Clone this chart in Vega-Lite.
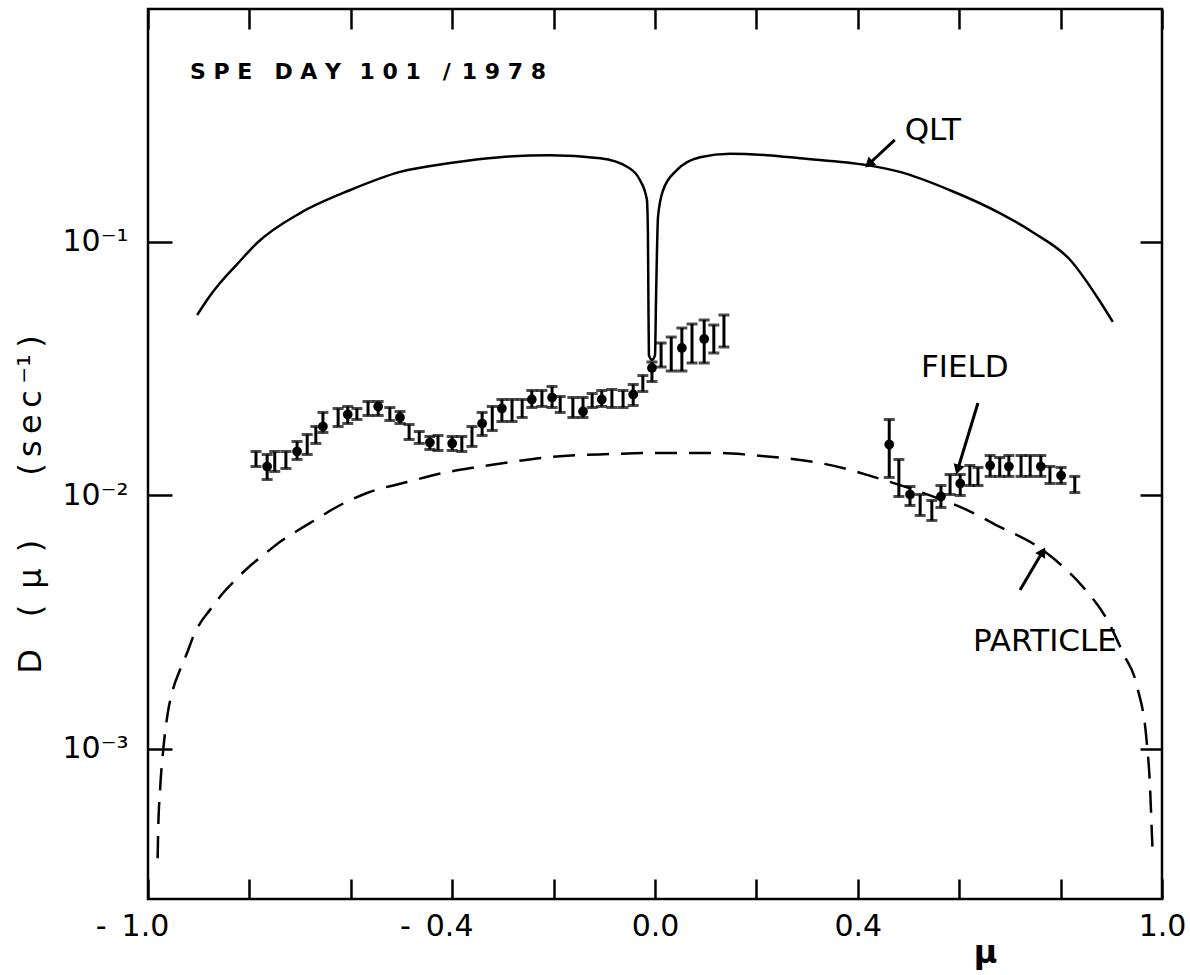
{
  "$schema": "https://vega.github.io/schema/vega-lite/v6.json",
  "width": 1014,
  "height": 890,
  "autosize": {"type": "none"},
  "padding": {"left": 148, "top": 9, "right": 28, "bottom": 76},
  "background": "white",
  "config": {
    "view": {"stroke": "black", "strokeWidth": 2.5},
    "font": "DejaVu Sans"
  },
  "datasets": {
    "qlt": [
      {"mu": -0.903, "D": 0.0515}, {"mu": -0.878, "D": 0.06124}, {"mu": -0.858, "D": 0.06889},
      {"mu": -0.824, "D": 0.08185}, {"mu": -0.785, "D": 0.0991}, {"mu": -0.700, "D": 0.130},
      {"mu": -0.602, "D": 0.160}, {"mu": -0.503, "D": 0.189}, {"mu": -0.404, "D": 0.205},
      {"mu": -0.306, "D": 0.216}, {"mu": -0.207, "D": 0.220}, {"mu": -0.108, "D": 0.214},
      {"mu": -0.055, "D": 0.198}, {"mu": -0.030, "D": 0.176}, {"mu": -0.016, "D": 0.147},
      {"mu": -0.014, "D": 0.109}, {"mu": -0.013, "D": 0.059}, {"mu": -0.012, "D": 0.0358},
      {"mu": -0.006, "D": 0.0343}, {"mu": 0.000, "D": 0.0358}, {"mu": 0.002, "D": 0.059},
      {"mu": 0.006, "D": 0.126}, {"mu": 0.016, "D": 0.160}, {"mu": 0.043, "D": 0.192},
      {"mu": 0.089, "D": 0.216}, {"mu": 0.148, "D": 0.223}, {"mu": 0.221, "D": 0.220},
      {"mu": 0.286, "D": 0.214}, {"mu": 0.418, "D": 0.201}, {"mu": 0.483, "D": 0.189},
      {"mu": 0.582, "D": 0.160}, {"mu": 0.680, "D": 0.130}, {"mu": 0.746, "D": 0.109},
      {"mu": 0.819, "D": 0.0849}, {"mu": 0.872, "D": 0.0607}, {"mu": 0.903, "D": 0.0484}
    ],
    "particle": [
      {"mu": -0.981, "D": 0.000371}, {"mu": -0.980, "D": 0.000467}, {"mu": -0.976, "D": 0.000700},
      {"mu": -0.970, "D": 0.000990}, {"mu": -0.961, "D": 0.001387}, {"mu": -0.951, "D": 0.00171},
      {"mu": -0.937, "D": 0.00205}, {"mu": -0.923, "D": 0.00239}, {"mu": -0.911, "D": 0.00277},
      {"mu": -0.897, "D": 0.00314}, {"mu": -0.878, "D": 0.00353}, {"mu": -0.852, "D": 0.004124},
      {"mu": -0.824, "D": 0.004726}, {"mu": -0.799, "D": 0.00527}, {"mu": -0.765, "D": 0.005987},
      {"mu": -0.740, "D": 0.006556}, {"mu": -0.700, "D": 0.007376}, {"mu": -0.667, "D": 0.008077},
      {"mu": -0.635, "D": 0.008845}, {"mu": -0.568, "D": 0.01023}, {"mu": -0.489, "D": 0.0113},
      {"mu": -0.418, "D": 0.01227}, {"mu": -0.351, "D": 0.01295}, {"mu": -0.286, "D": 0.01355},
      {"mu": -0.207, "D": 0.01418}, {"mu": -0.083, "D": 0.01458}, {"mu": -0.016, "D": 0.01472},
      {"mu": 0.055, "D": 0.01472}, {"mu": 0.128, "D": 0.01472}, {"mu": 0.187, "D": 0.01446},
      {"mu": 0.385, "D": 0.01262}, {"mu": 0.418, "D": 0.01206}, {"mu": 0.523, "D": 0.01033},
      {"mu": 0.615, "D": 0.00878}, {"mu": 0.680, "D": 0.00752}, {"mu": 0.753, "D": 0.00632},
      {"mu": 0.805, "D": 0.00523}, {"mu": 0.844, "D": 0.00436}, {"mu": 0.892, "D": 0.00323},
      {"mu": 0.923, "D": 0.00239}, {"mu": 0.951, "D": 0.00176}, {"mu": 0.970, "D": 0.00106},
      {"mu": 0.976, "D": 0.000734}, {"mu": 0.980, "D": 0.000467}, {"mu": 0.982, "D": 0.000371}
    ],
    "obs": [
      {"mu": -0.787, "hi": 0.01491, "lo": 0.01301, "dot": null},
      {"mu": -0.765, "hi": 0.01451, "lo": 0.01156, "dot": 0.01301},
      {"mu": -0.750, "hi": 0.01491, "lo": 0.01244, "dot": null},
      {"mu": -0.728, "hi": 0.01491, "lo": 0.01278, "dot": null},
      {"mu": -0.706, "hi": 0.01633, "lo": 0.01387, "dot": 0.01491},
      {"mu": -0.686, "hi": 0.01740, "lo": 0.01451, "dot": null},
      {"mu": -0.669, "hi": 0.01871, "lo": 0.01604, "dot": null},
      {"mu": -0.655, "hi": 0.02126, "lo": 0.01772, "dot": 0.01871},
      {"mu": -0.625, "hi": 0.02204, "lo": 0.01871, "dot": null},
      {"mu": -0.606, "hi": 0.02245, "lo": 0.01923, "dot": 0.02087},
      {"mu": -0.588, "hi": 0.02204, "lo": 0.01994, "dot": null},
      {"mu": -0.566, "hi": 0.02348, "lo": 0.02068, "dot": null},
      {"mu": -0.546, "hi": 0.02348, "lo": 0.02068, "dot": 0.02245},
      {"mu": -0.523, "hi": 0.02224, "lo": 0.01976, "dot": null},
      {"mu": -0.503, "hi": 0.02145, "lo": 0.01923, "dot": 0.02031},
      {"mu": -0.485, "hi": 0.01905, "lo": 0.01663, "dot": null},
      {"mu": -0.465, "hi": 0.01788, "lo": 0.01604, "dot": null},
      {"mu": -0.444, "hi": 0.01709, "lo": 0.01519, "dot": 0.01618},
      {"mu": -0.428, "hi": 0.01724, "lo": 0.01505, "dot": null},
      {"mu": -0.400, "hi": 0.01709, "lo": 0.01505, "dot": 0.01604},
      {"mu": -0.381, "hi": 0.01709, "lo": 0.01491, "dot": null},
      {"mu": -0.361, "hi": 0.01871, "lo": 0.01561, "dot": null},
      {"mu": -0.341, "hi": 0.02126, "lo": 0.01724, "dot": 0.01923},
      {"mu": -0.321, "hi": 0.02245, "lo": 0.01804, "dot": null},
      {"mu": -0.302, "hi": 0.02392, "lo": 0.01958, "dot": 0.02204},
      {"mu": -0.282, "hi": 0.02392, "lo": 0.01958, "dot": null},
      {"mu": -0.262, "hi": 0.02392, "lo": 0.02031, "dot": null},
      {"mu": -0.243, "hi": 0.02595, "lo": 0.02224, "dot": 0.02392},
      {"mu": -0.223, "hi": 0.02595, "lo": 0.02245, "dot": null},
      {"mu": -0.203, "hi": 0.02692, "lo": 0.02224, "dot": 0.02435},
      {"mu": -0.187, "hi": 0.02458, "lo": 0.02126, "dot": null},
      {"mu": -0.162, "hi": 0.02435, "lo": 0.02031, "dot": null},
      {"mu": -0.142, "hi": 0.02435, "lo": 0.02031, "dot": 0.02145},
      {"mu": -0.124, "hi": 0.02526, "lo": 0.02224, "dot": null},
      {"mu": -0.105, "hi": 0.02595, "lo": 0.02245, "dot": 0.02392},
      {"mu": -0.085, "hi": 0.02619, "lo": 0.02224, "dot": null},
      {"mu": -0.063, "hi": 0.02595, "lo": 0.02224, "dot": null},
      {"mu": -0.043, "hi": 0.02741, "lo": 0.02265, "dot": 0.02503},
      {"mu": -0.024, "hi": 0.02973, "lo": 0.02572, "dot": null},
      {"mu": -0.006, "hi": 0.03362, "lo": 0.02816, "dot": 0.03184},
      {"mu": 0.012, "hi": 0.03995, "lo": 0.03213, "dot": null},
      {"mu": 0.032, "hi": 0.04218, "lo": 0.03098, "dot": null},
      {"mu": 0.053, "hi": 0.04578, "lo": 0.03098, "dot": 0.03818},
      {"mu": 0.073, "hi": 0.04747, "lo": 0.03332, "dot": null},
      {"mu": 0.097, "hi": 0.04923, "lo": 0.03332, "dot": 0.04143},
      {"mu": 0.116, "hi": 0.04704, "lo": 0.03648, "dot": null},
      {"mu": 0.136, "hi": 0.05152, "lo": 0.03853, "dot": null},
      {"mu": 0.462, "hi": 0.01994, "lo": 0.01178, "dot": 0.01589},
      {"mu": 0.481, "hi": 0.01387, "lo": 0.00991, "dot": null},
      {"mu": 0.503, "hi": 0.01085, "lo": 0.00913, "dot": 0.01009},
      {"mu": 0.523, "hi": 0.01009, "lo": 0.00834, "dot": null},
      {"mu": 0.546, "hi": 0.00956, "lo": 0.00797, "dot": null},
      {"mu": 0.564, "hi": 0.01095, "lo": 0.00897, "dot": 0.00991},
      {"mu": 0.582, "hi": 0.01210, "lo": 0.01009, "dot": null},
      {"mu": 0.602, "hi": 0.01210, "lo": 0.01000, "dot": 0.01115},
      {"mu": 0.621, "hi": 0.01313, "lo": 0.01095, "dot": null},
      {"mu": 0.637, "hi": 0.01290, "lo": 0.01095, "dot": null},
      {"mu": 0.661, "hi": 0.01438, "lo": 0.01189, "dot": 0.01313},
      {"mu": 0.680, "hi": 0.01412, "lo": 0.01189, "dot": null},
      {"mu": 0.698, "hi": 0.01438, "lo": 0.01189, "dot": 0.01301},
      {"mu": 0.722, "hi": 0.01438, "lo": 0.01189, "dot": null},
      {"mu": 0.740, "hi": 0.01438, "lo": 0.01189, "dot": null},
      {"mu": 0.761, "hi": 0.01438, "lo": 0.01189, "dot": 0.01301},
      {"mu": 0.779, "hi": 0.01301, "lo": 0.01115, "dot": null},
      {"mu": 0.801, "hi": 0.01290, "lo": 0.01115, "dot": 0.01199},
      {"mu": 0.828, "hi": 0.01189, "lo": 0.01027, "dot": null}
    ],
    "notes": [
      {"mu": -0.917, "D": 0.468, "label": "S P E\u2002\u2002D A Y\u2002 1 0 1\u2002\u2002/\u20021 9 7 8", "kind": "title"},
      {"mu": 0.548, "D": 0.274, "label": "QLT", "kind": "curve"},
      {"mu": 0.611, "D": 0.0318, "label": "FIELD", "kind": "curve"},
      {"mu": 0.769, "D": 0.00264, "label": "PARTICLE", "kind": "curve"}
    ],
    "arrows": [
      {"mu": 0.473, "D": 0.2526, "mu2": 0.424, "D2": 0.2049, "label": "QLT"},
      {"mu": 0.637, "D": 0.02317, "mu2": 0.598, "D2": 0.01284, "label": "FIELD"},
      {"mu": 0.720, "D": 0.00424, "mu2": 0.763, "D2": 0.00593, "label": "PARTICLE"}
    ]
  },
  "resolve": {"axis": {"x": "independent", "y": "independent"}},
  "layer": [
    {
      "data": {"name": "qlt"},
      "mark": {"type": "line", "color": "black", "strokeWidth": 2.5, "interpolate": "monotone"},
      "encoding": {
        "x": {
          "field": "mu", "type": "quantitative",
          "scale": {"domain": [-1, 1], "nice": false, "zero": false},
          "axis": {
            "orient": "bottom",
            "values": [-1, -0.8, -0.6, -0.4, -0.2, 0, 0.2, 0.4, 0.6, 0.8, 1],
            "tickSize": -20, "tickWidth": 2.5, "tickColor": "black",
            "domain": false, "grid": false,
            "labelExpr": "datum.value == -1 ? '-\u20021.0' : datum.value == -0.4 ? '-\u20020.4' : datum.value == 0 ? '0.0' : datum.value == 0.4 ? '0.4' : datum.value == 1 ? '1.0' : ''",
            "labelFont": "DejaVu Sans", "labelFontSize": 30, "labelColor": "black",
            "labelFlush": false, "labelOverlap": false, "labelPadding": 32,
            "labelOffset": {"condition": {"test": "datum.value < 0", "value": -16}, "value": 0},
            "labelBaseline": "top",
            "title": "μ", "titleFont": "DejaVu Sans", "titleFontSize": 32, "titleFontWeight": "bold",
            "titleColor": "black", "titleX": 837, "titleY": 38, "titleBaseline": "top", "titleAlign": "center"
          }
        },
        "y": {
          "field": "D", "type": "quantitative",
          "scale": {"type": "log", "domain": [0.000256, 0.83], "nice": false},
          "axis": {
            "orient": "left",
            "values": [0.001, 0.01, 0.1],
            "tickSize": -24, "tickWidth": 2.5, "tickColor": "black",
            "domain": false, "grid": false,
            "labelExpr": "datum.value > 0.05 ? '10⁻¹' : datum.value > 0.005 ? '10⁻²' : '10⁻³'",
            "labelFont": "DejaVu Sans", "labelFontSize": 30, "labelColor": "black",
            "labelPadding": 44, "labelBaseline": "middle", "labelAlign": "right",
            "title": "D\u2003(\u2002μ\u2002)\u2003\u2003(\u2009s\u2009e\u2009c\u2009⁻¹\u2009)", "titleFont": "DejaVu Sans", "titleFontSize": 32,
            "titleFontWeight": "normal", "titleColor": "black",
            "titleX": -118, "titleY": 495, "titleAngle": -90, "titleAlign": "center", "titleBaseline": "middle"
          }
        }
      }
    },
    {
      "data": {"name": "particle"},
      "mark": {"type": "line", "color": "black", "strokeWidth": 2.5, "strokeDash": [22, 12], "interpolate": "monotone"},
      "encoding": {
        "x": {
          "field": "mu", "type": "quantitative",
          "scale": {"domain": [-1, 1], "nice": false, "zero": false},
          "axis": {
            "orient": "top",
            "values": [-1, -0.8, -0.6, -0.4, -0.2, 0, 0.2, 0.4, 0.6, 0.8, 1],
            "tickSize": -20, "tickWidth": 2.5, "tickColor": "black",
            "domain": false, "grid": false, "labels": false, "title": null
          }
        },
        "y": {
          "field": "D", "type": "quantitative",
          "scale": {"type": "log", "domain": [0.000256, 0.83], "nice": false},
          "axis": {
            "orient": "right",
            "values": [0.001, 0.01, 0.1],
            "tickSize": -22, "tickWidth": 2.5, "tickColor": "black",
            "domain": false, "grid": false, "labels": false, "title": null
          }
        }
      }
    },
    {
      "data": {"name": "obs"},
      "mark": {"type": "errorbar", "color": "black", "thickness": 3, "ticks": {"size": 11, "thickness": 3}},
      "encoding": {
        "x": {"field": "mu", "type": "quantitative", "scale": {"domain": [-1, 1], "nice": false, "zero": false}, "axis": null},
        "y": {"field": "hi", "type": "quantitative", "scale": {"type": "log", "domain": [0.000256, 0.83], "nice": false}, "axis": null},
        "y2": {"field": "lo"}
      }
    },
    {
      "data": {"name": "obs"},
      "transform": [{"filter": "isValid(datum.dot)"}],
      "mark": {"type": "point", "filled": true, "color": "black", "size": 95, "opacity": 1},
      "encoding": {
        "x": {"field": "mu", "type": "quantitative", "scale": {"domain": [-1, 1], "nice": false, "zero": false}, "axis": null},
        "y": {"field": "dot", "type": "quantitative", "scale": {"type": "log", "domain": [0.000256, 0.83], "nice": false}, "axis": null}
      }
    },
    {
      "data": {"name": "notes"},
      "transform": [{"filter": "datum.kind == 'title'"}],
      "mark": {"type": "text", "align": "left", "baseline": "middle", "font": "DejaVu Sans", "fontSize": 22, "fontWeight": "bold", "color": "black"},
      "encoding": {
        "x": {"field": "mu", "type": "quantitative", "scale": {"domain": [-1, 1], "nice": false, "zero": false}, "axis": null},
        "y": {"field": "D", "type": "quantitative", "scale": {"type": "log", "domain": [0.000256, 0.83], "nice": false}, "axis": null},
        "text": {"field": "label"}
      }
    },
    {
      "data": {"name": "notes"},
      "transform": [{"filter": "datum.kind == 'curve'"}],
      "mark": {"type": "text", "align": "center", "baseline": "middle", "font": "DejaVu Sans", "fontSize": 31, "color": "black"},
      "encoding": {
        "x": {"field": "mu", "type": "quantitative", "scale": {"domain": [-1, 1], "nice": false, "zero": false}, "axis": null},
        "y": {"field": "D", "type": "quantitative", "scale": {"type": "log", "domain": [0.000256, 0.83], "nice": false}, "axis": null},
        "text": {"field": "label"}
      }
    },
    {
      "data": {"name": "arrows"},
      "mark": {"type": "rule", "color": "black", "strokeWidth": 3},
      "encoding": {
        "x": {"field": "mu", "type": "quantitative", "scale": {"domain": [-1, 1], "nice": false, "zero": false}, "axis": null},
        "y": {"field": "D", "type": "quantitative", "scale": {"type": "log", "domain": [0.000256, 0.83], "nice": false}, "axis": null},
        "x2": {"field": "mu2"},
        "y2": {"field": "D2"}
      }
    },
    {
      "data": {"name": "arrows"},
      "transform": [{"filter": "datum.label == 'QLT'"}],
      "mark": {"type": "point", "shape": "triangle", "filled": true, "color": "black", "size": 130, "angle": 227, "opacity": 1},
      "encoding": {
        "x": {"field": "mu2", "type": "quantitative", "scale": {"domain": [-1, 1], "nice": false, "zero": false}, "axis": null},
        "y": {"field": "D2", "type": "quantitative", "scale": {"type": "log", "domain": [0.000256, 0.83], "nice": false}, "axis": null}
      }
    },
    {
      "data": {"name": "arrows"},
      "transform": [{"filter": "datum.label == 'FIELD'"}],
      "mark": {"type": "point", "shape": "triangle", "filled": true, "color": "black", "size": 130, "angle": 197, "opacity": 1},
      "encoding": {
        "x": {"field": "mu2", "type": "quantitative", "scale": {"domain": [-1, 1], "nice": false, "zero": false}, "axis": null},
        "y": {"field": "D2", "type": "quantitative", "scale": {"type": "log", "domain": [0.000256, 0.83], "nice": false}, "axis": null}
      }
    },
    {
      "data": {"name": "arrows"},
      "transform": [{"filter": "datum.label == 'PARTICLE'"}],
      "mark": {"type": "point", "shape": "triangle", "filled": true, "color": "black", "size": 130, "angle": 31, "opacity": 1},
      "encoding": {
        "x": {"field": "mu2", "type": "quantitative", "scale": {"domain": [-1, 1], "nice": false, "zero": false}, "axis": null},
        "y": {"field": "D2", "type": "quantitative", "scale": {"type": "log", "domain": [0.000256, 0.83], "nice": false}, "axis": null}
      }
    }
  ]
}
